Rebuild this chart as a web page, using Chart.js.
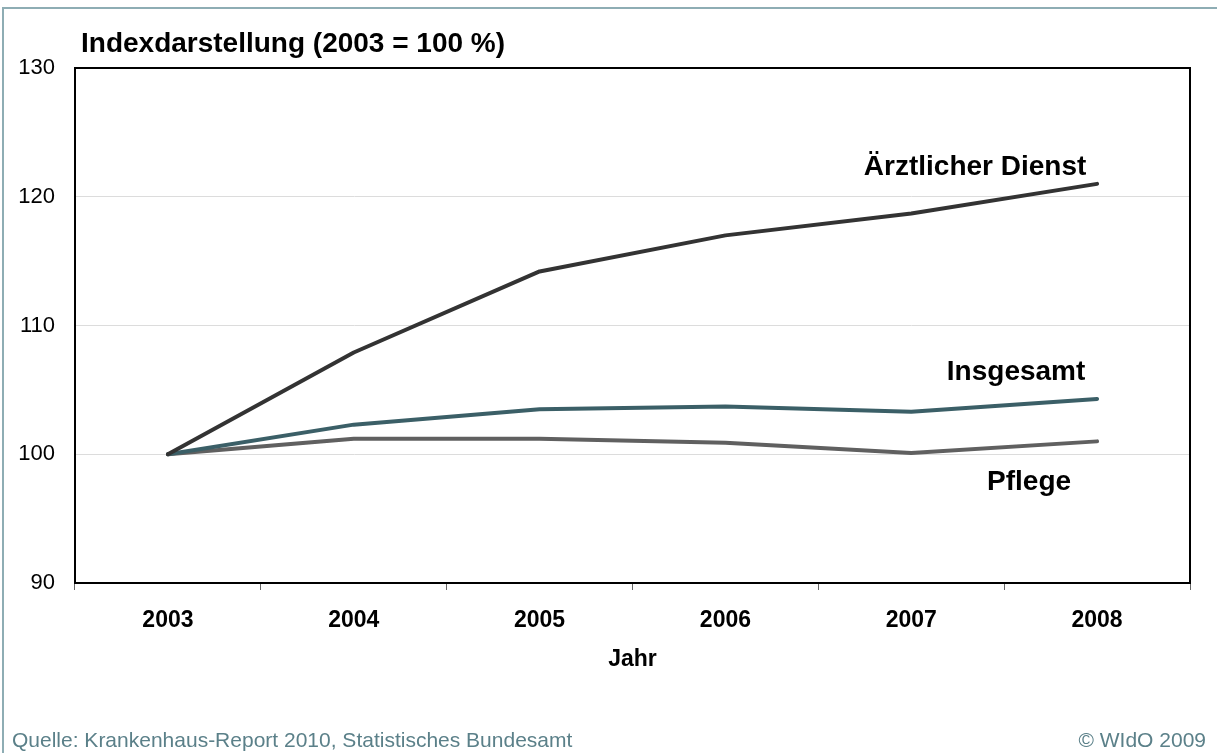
<!DOCTYPE html>
<html>
<head>
<meta charset="utf-8">
<script src="https://cdn.jsdelivr.net/npm/chart.js@4"></script>
<style>
  html, body { margin: 0; padding: 0; background: #fff; }
  #wrap { width: 1217px; height: 753px; }
</style>
</head>
<body>
<div id="wrap"><canvas id="myChart"></canvas></div>
<script>
// data
const years = ['2003', '2004', '2005', '2006', '2007', '2008'];
const aerzte = [100, 107.9, 114.2, 117.0, 118.7, 121.0];
const insgesamt = [100, 102.3, 103.5, 103.7, 103.3, 104.3];
const pflege = [100, 101.2, 101.2, 100.9, 100.1, 101.0];
const seriesNames = ['Ärztlicher Dienst', 'Insgesamt', 'Pflege'];
const yTicks = [90, 100, 110, 120, 130];

const FONT = '"Liberation Sans", Arial, sans-serif';

// frame, plot box, heading, series labels and footer
const extras = {
  id: 'extras',
  beforeDraw(chart) {
    const c = chart.ctx;
    c.save();
    c.fillStyle = '#fff';
    c.fillRect(0, 0, chart.width, chart.height);
    c.strokeStyle = '#8eadb4';
    c.lineWidth = 2;
    c.beginPath();
    c.moveTo(3, chart.height);
    c.lineTo(3, 8);
    c.lineTo(chart.width, 8);
    c.stroke();
    c.restore();
  },
  afterDraw(chart) {
    const c = chart.ctx;
    const a = chart.chartArea;
    c.save();
    c.strokeStyle = '#000';
    c.lineWidth = 2;
    c.strokeRect(a.left, a.top, a.right - a.left, a.bottom - a.top);

    c.fillStyle = '#000';
    c.font = 'bold 28px ' + FONT;
    c.textBaseline = 'alphabetic';
    c.textAlign = 'left';
    c.fillText('Indexdarstellung (2003 = 100 %)', 81, 52);

    // series labels near the last point of each line
    const offs = [[-122, -9], [-81, -19], [-68, 49]];
    c.textAlign = 'center';
    chart.data.datasets.forEach((ds, i) => {
      const pt = chart.getDatasetMeta(i).data[ds.data.length - 1];
      c.fillText(seriesNames[i], pt.x + offs[i][0], pt.y + offs[i][1]);
    });

    c.font = '21px ' + FONT;
    c.fillStyle = '#5b8089';
    c.textAlign = 'left';
    c.fillText('Quelle: Krankenhaus-Report 2010, Statistisches Bundesamt', 12, 747);
    c.textAlign = 'right';
    c.fillText('© WIdO 2009', 1206, 747);
    c.restore();
  }
};

const config = {
  type: 'line',
  data: {
    labels: years,
    datasets: [{
      label: seriesNames[0],
      data: aerzte,
      borderColor: '#333333',
    },
    {
      label: seriesNames[1],
      data: insgesamt,
      borderColor: '#3b5f67',
    },
    {
      label: seriesNames[2],
      data: pflege,
      borderColor: '#606060',
    }]
  },
  options: {
    responsive: true,
    maintainAspectRatio: false,
    animation: false,
    layout: { padding: { left: 0, top: 68, right: 27, bottom: 73 } },
    elements: {
      line: { borderWidth: 4, tension: 0, borderCapStyle: 'round', borderJoinStyle: 'round' },
      point: { radius: 0, hoverRadius: 0 }
    },
    plugins: {
      legend: { display: false },
      title: { display: false },
      tooltip: { enabled: false }
    },
    scales: {
      x: {
        offset: true,
        afterFit(s) { s.height = 97; },
        grid: { offset: true, drawOnChartArea: false, tickLength: 7, color: '#666', lineWidth: 1 },
        border: { color: '#000', width: 2 },
        ticks: { font: { family: FONT, size: 23, weight: 'bold' }, color: '#000', padding: 17, maxRotation: 0 },
        title: { display: true, text: 'Jahr', font: { family: FONT, size: 23, weight: 'bold' }, color: '#000', padding: { top: 0, bottom: 7 } }
      },
      y: {
        min: 90,
        max: 130,
        afterFit(s) { s.width = 75; },
        afterBuildTicks(s) { s.ticks = yTicks.map(v => ({ value: v })); },
        grid: { color: '#dcdcdc', lineWidth: 1, drawTicks: false },
        border: { color: '#000', width: 2 },
        ticks: { font: { family: FONT, size: 22 }, color: '#000', padding: 20 }
      }
    }
  },
  plugins: [extras]
};

const myChart = new Chart(document.getElementById('myChart'), config);
</script>
</body>
</html>
